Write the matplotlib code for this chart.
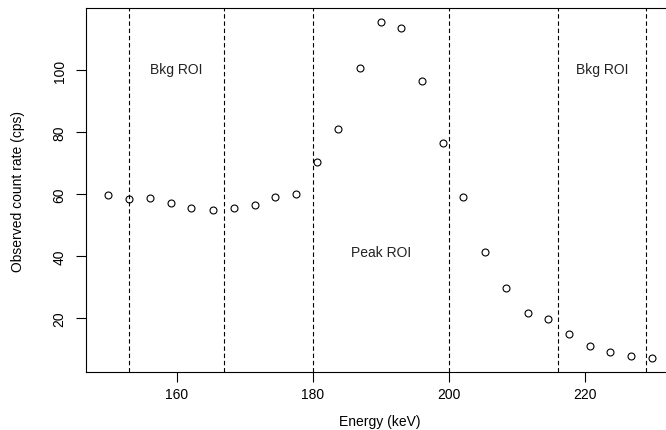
import matplotlib
matplotlib.use("Agg")
import matplotlib.pyplot as plt

plt.rcParams['font.family'] = ['Liberation Sans', 'DejaVu Sans']

# data
energy = [150.0, 153.0, 156.1, 159.2, 162.2, 165.3, 168.4, 171.5, 174.5, 177.6,
          180.7, 183.7, 186.9, 190.0, 193.0, 196.1, 199.2, 202.1, 205.3, 208.4,
          211.6, 214.6, 217.6, 220.7, 223.7, 226.8, 229.9]
rate = [59.7, 58.6, 58.9, 57.2, 55.6, 55.0, 55.6, 56.4, 59.1, 60.2,
        70.5, 81.0, 100.6, 115.4, 113.7, 96.6, 76.6, 59.1, 41.3, 29.9,
        21.8, 19.7, 14.9, 11.1, 9.0, 8.0, 7.3]
roi_edges = [153, 167, 180, 200, 216, 229]
roi_labels = ["Bkg ROI", "Peak ROI", "Bkg ROI"]
label_x = [160, 190, 222.5]
label_y = [100.5, 41.4, 100.5]

fig = plt.figure(figsize=(6.66, 4.31), dpi=100)
ax = fig.add_axes([86 / 666, 58 / 431, 586.7 / 666, 363.7 / 431])

ax.plot(energy, rate, 'o', mfc='none', mec='black', ms=5, mew=0.8)
for e in roi_edges:
    ax.axvline(e, color='black', ls=(0, (4, 2.5)), lw=0.8)
for tx, ty, s in zip(label_x, label_y, roi_labels):
    ax.text(tx, ty, s, ha='center', va='center', fontsize=10, color='#222222')

ax.set_xlim(146.7, 232.9)
ax.set_ylim(2.7, 119.9)
ax.set_xticks([160, 180, 200, 220])
ax.set_yticks([20, 40, 60, 80, 100])
ax.tick_params(direction='out', length=7, width=0.8, labelsize=10, pad=4)
ax.tick_params(axis='y', pad=7)
plt.setp(ax.get_yticklabels(), rotation=90, va='center')
for sp in ax.spines.values():
    sp.set_linewidth(0.8)

ax.set_xlabel("Energy (keV)", fontsize=10, labelpad=9)
ax.set_ylabel("Observed count rate (cps)", fontsize=10, labelpad=20)

fig.savefig("out.png", dpi=100)
